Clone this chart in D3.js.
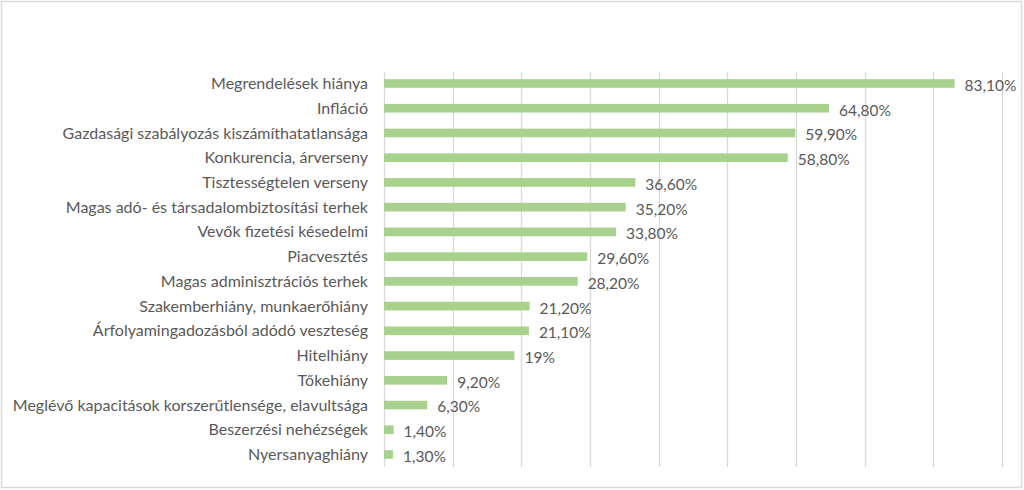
<!DOCTYPE html>
<html>
<head>
<meta charset="utf-8">
<script src="https://cdn.jsdelivr.net/npm/d3@7"></script>
<style>
  body { margin: 0; background: #fff; }
  svg { display: block; }
</style>
</head>
<body>
<svg id="svg" width="1024" height="490"></svg>
<script>
// categories, top to bottom
var categories = [
  "Megrendelések hiánya",
  "Infláció",
  "Gazdasági szabályozás kiszámíthatatlansága",
  "Konkurencia, árverseny",
  "Tisztességtelen verseny",
  "Magas adó- és társadalombiztosítási terhek",
  "Vevők fizetési késedelmi",
  "Piacvesztés",
  "Magas adminisztrációs terhek",
  "Szakemberhiány, munkaerőhiány",
  "Árfolyamingadozásból adódó veszteség",
  "Hitelhiány",
  "Tőkehiány",
  "Meglévő kapacitások korszerűtlensége, elavultsága",
  "Beszerzési nehézségek",
  "Nyersanyaghiány"
];
var values = [83.1, 64.8, 59.9, 58.8, 36.6, 35.2, 33.8, 29.6, 28.2, 21.2, 21.1, 19, 9.2, 6.3, 1.4, 1.3];
var valueLabels = ["83,10%", "64,80%", "59,90%", "58,80%", "36,60%", "35,20%", "33,80%", "29,60%",
  "28,20%", "21,20%", "21,10%", "19%", "9,20%", "6,30%", "1,40%", "1,30%"];
var gridTicks = [0, 10, 20, 30, 40, 50, 60, 70, 80, 90];

var svg = d3.select("#svg");

// outer frame
svg.append("rect")
  .attr("x", 1.5).attr("y", 1.5)
  .attr("width", 1020).attr("height", 486)
  .attr("fill", "#fff")
  .attr("stroke", "#d9d9d9")
  .attr("stroke-width", 1.5);

var x = d3.scaleLinear().domain([0, 90]).range([384, 1002]);
var y = d3.scaleBand().domain(categories).range([71, 467]).paddingInner(0.65).paddingOuter(0.33);

// vertical gridlines
svg.append("g")
  .selectAll("line")
  .data(gridTicks)
  .enter()
  .append("line")
  .attr("x1", function (d) { return Math.round(x(d)) + 0.5; })
  .attr("x2", function (d) { return Math.round(x(d)) + 0.5; })
  .attr("y1", 72)
  .attr("y2", 467)
  .attr("stroke", "#d9d9d9")
  .attr("stroke-width", 1.3);

// bars
svg.append("g")
  .selectAll("rect")
  .data(values)
  .enter()
  .append("rect")
  .attr("x", x(0))
  .attr("y", function (d, i) { return y(categories[i]); })
  .attr("width", function (d) { return x(d) - x(0); })
  .attr("height", y.bandwidth())
  .attr("fill", "#a9d18e");

// category labels
svg.append("g")
  .attr("font-family", "Lato, 'Liberation Sans', sans-serif")
  .attr("font-size", 16)
  .attr("fill", "#595959")
  .attr("text-anchor", "end")
  .selectAll("text")
  .data(categories)
  .enter()
  .append("text")
  .attr("x", 368)
  .attr("y", function (d) { return y(d) + y.bandwidth() / 2; })
  .attr("dy", "0.35em")
  .text(function (d) { return d; });

// value labels
svg.append("g")
  .attr("font-family", "Lato, 'Liberation Sans', sans-serif")
  .attr("font-size", 15.5)
  .attr("fill", "#595959")
  .selectAll("text")
  .data(values)
  .enter()
  .append("text")
  .attr("x", function (d) { return x(d) + 10; })
  .attr("y", function (d, i) { return y(categories[i]) + y.bandwidth() / 2 + 2; })
  .attr("dy", "0.35em")
  .text(function (d, i) { return valueLabels[i]; });
</script>
</body>
</html>
